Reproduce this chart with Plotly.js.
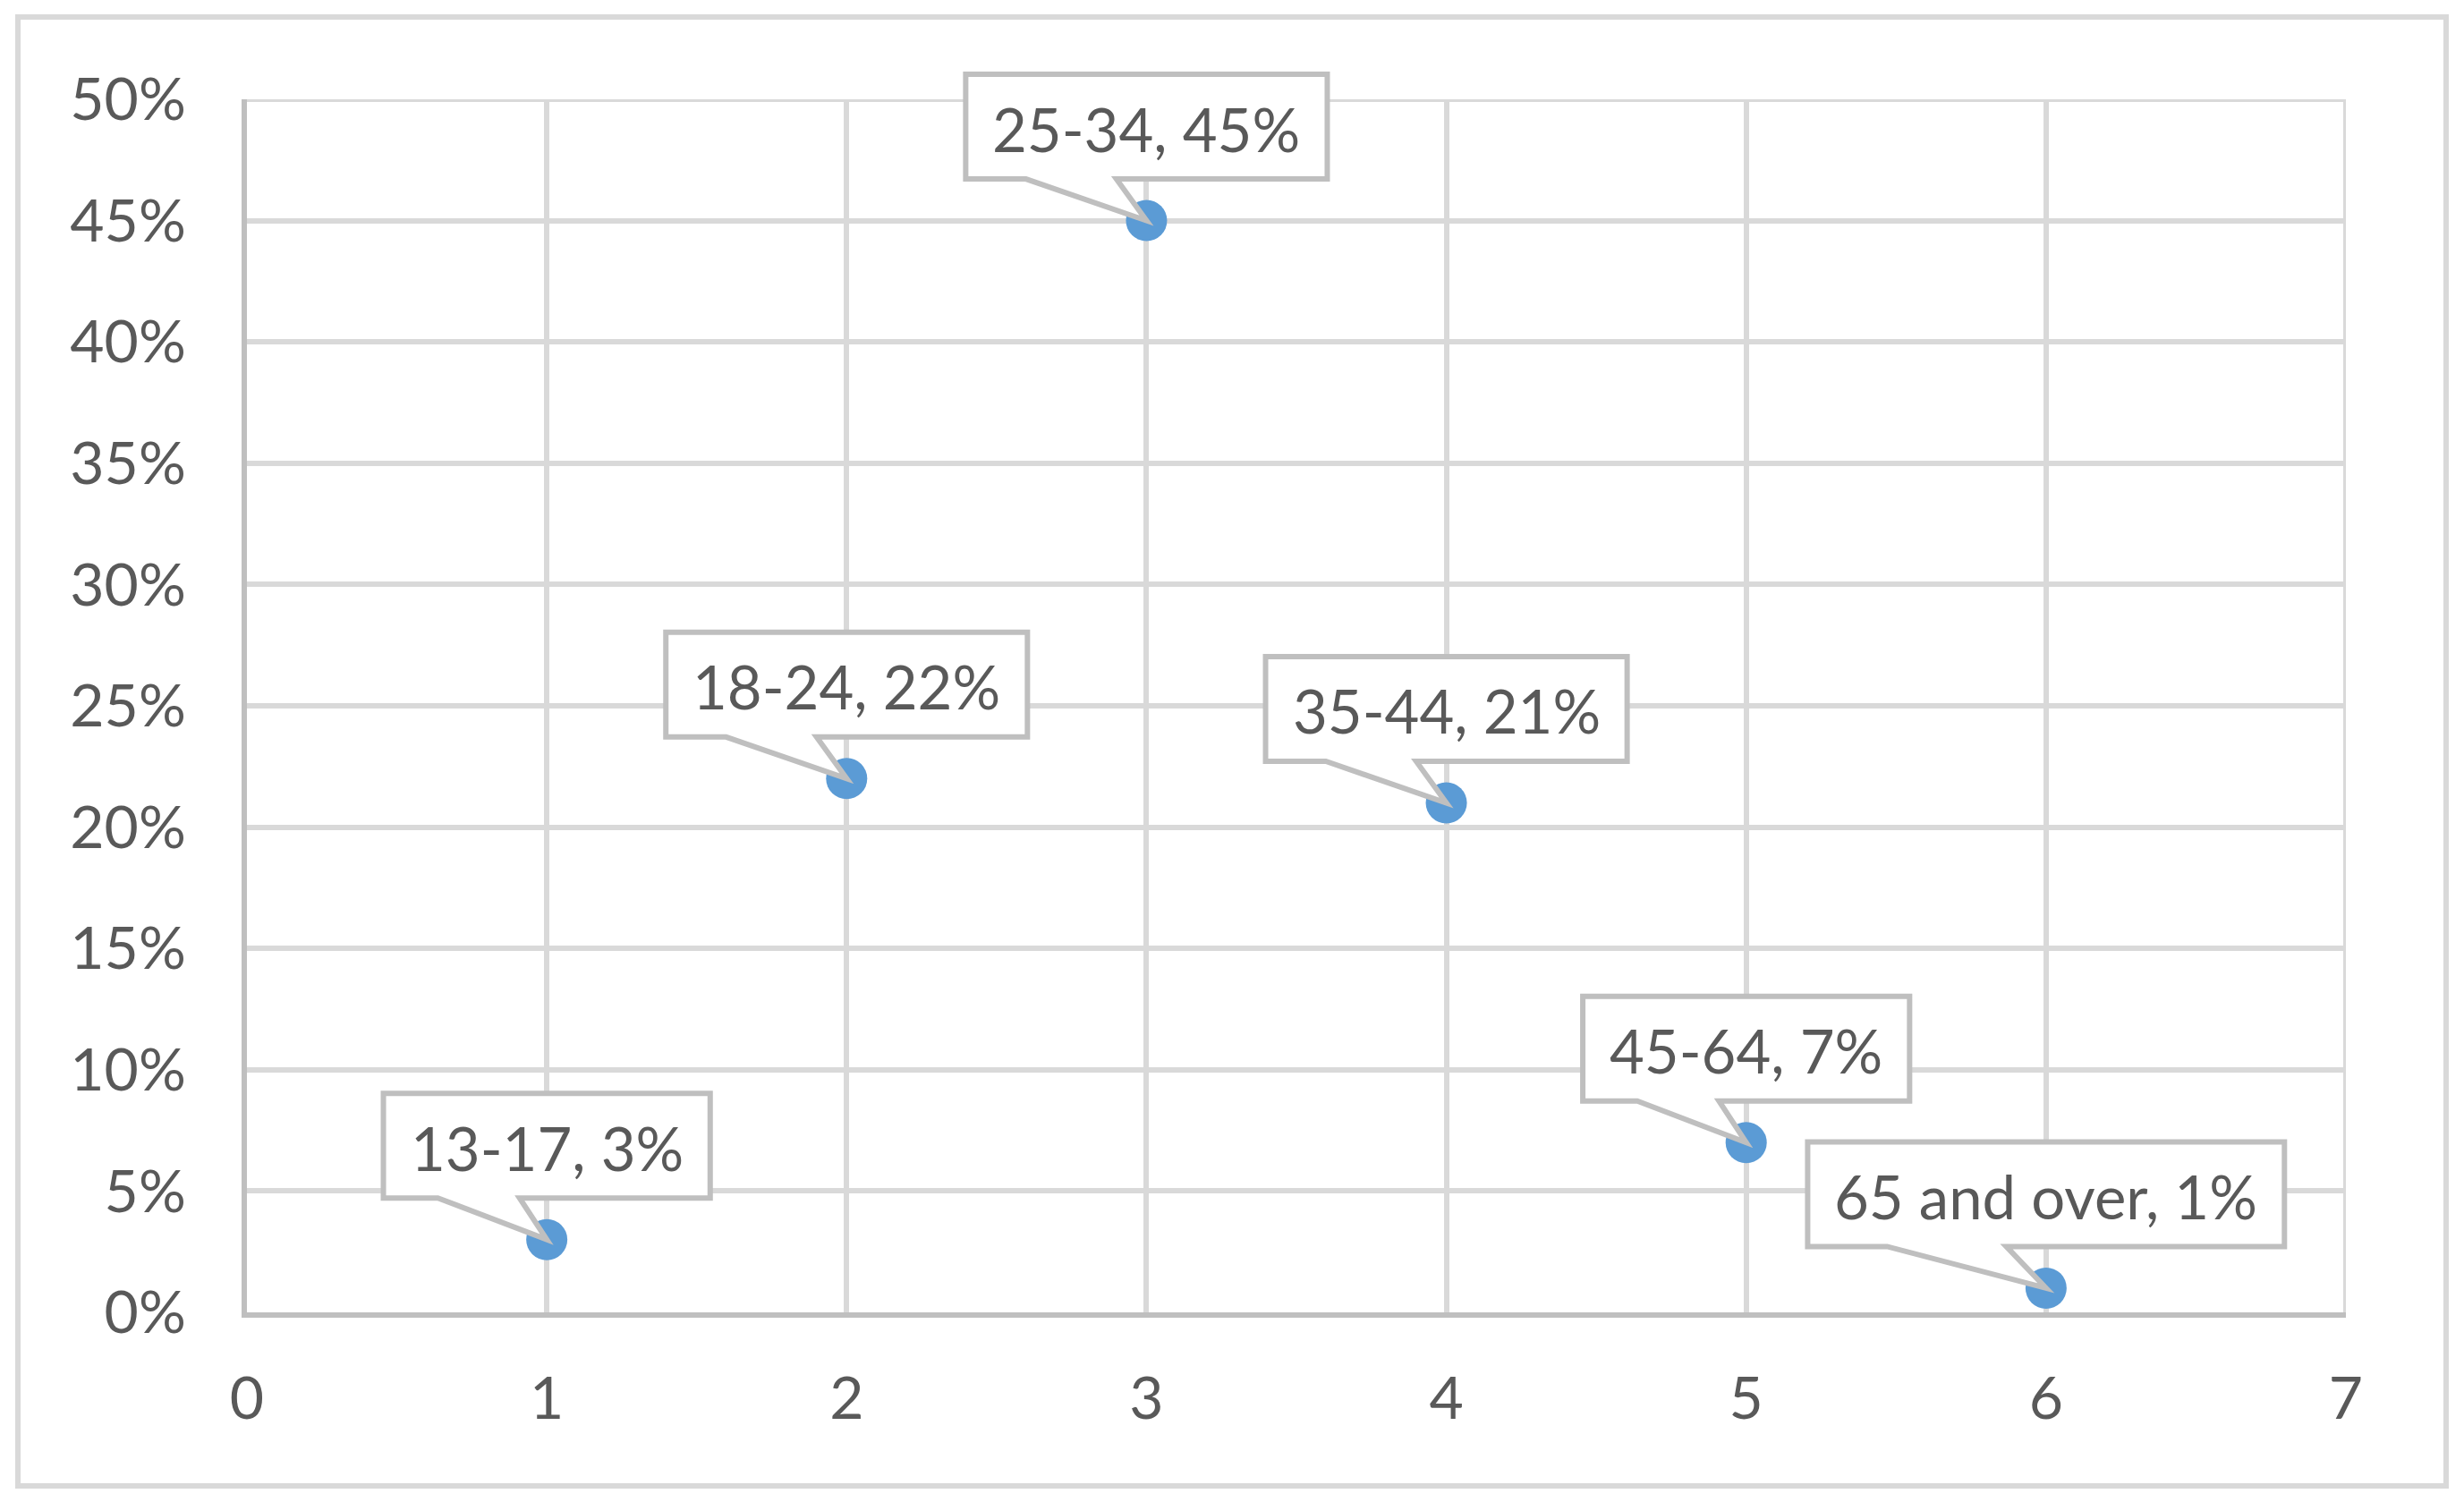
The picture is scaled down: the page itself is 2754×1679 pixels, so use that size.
<!DOCTYPE html>
<html>
<head>
<meta charset="utf-8">
<script src="https://cdn.plot.ly/plotly-3.0.1.min.js"></script>
<style>
  html, body { margin: 0; padding: 0; background: #ffffff; }
  #chart { width: 2754px; height: 1679px; }
</style>
</head>
<body>
<div id="chart"></div>
<script>
// ---- data ----
const ageGroups = ['13-17', '18-24', '25-34', '35-44', '45-64', '65 and over'];
const xPositions = [1, 2, 3, 4, 5, 6];
const shares = [0.03, 0.22, 0.45, 0.21, 0.07, 0.01];
const xTickValues = [0, 1, 2, 3, 4, 5, 6, 7];
const yTickValues = [0, 0.05, 0.10, 0.15, 0.20, 0.25, 0.30, 0.35, 0.40, 0.45, 0.50];
const xRange = [0, 7];
const yRange = [0, 0.5];

// ---- style ----
const FONT = 'Lato, "Open Sans", sans-serif';
const TEXT_COLOR = '#595959';
const GRID_COLOR = '#d9d9d9';
const AXIS_COLOR = '#bfbfbf';
const TICK_SIZE = 66;
const LABEL_SIZE = 67;

const W = 2754, H = 1679;
const M = { l: 276, r: 132, t: 111, b: 212 };

function draw() {
  const canvas = document.createElement('canvas');
  const ctx = canvas.getContext('2d');
  ctx.font = LABEL_SIZE + 'px Lato';

  const labelTexts = ageGroups.map((g, i) => g + ', ' + Math.round(shares[i] * 100) + '%');

  const shapes = [];
  const annotations = [];

  // outer chart border (paper coords relative to the plot area)
  const pw = W - M.l - M.r, ph = H - M.t - M.b;
  shapes.push({
    type: 'rect', xref: 'paper', yref: 'paper',
    x0: (20 - M.l) / pw, x1: (2734 - M.l) / pw,
    y0: (H - M.b - 1661) / ph, y1: (H - M.b - 19) / ph,
    line: { color: GRID_COLOR, width: 6 }, fillcolor: 'rgba(0,0,0,0)', layer: 'below'
  });
  // gridlines at the far ends of the ranges (top and right edges of the plot)
  shapes.push({
    type: 'line', xref: 'paper', yref: 'y', x0: 0, x1: 1, y0: yRange[1], y1: yRange[1],
    line: { color: GRID_COLOR, width: 6 }, layer: 'below'
  });
  shapes.push({
    type: 'line', xref: 'x', yref: 'paper', x0: xRange[1], x1: xRange[1], y0: 0, y1: 1,
    line: { color: GRID_COLOR, width: 6 }, layer: 'below'
  });

  labelTexts.forEach((t, i) => {
    const tw = ctx.measureText(t).width;
    const w = tw + 60;           // box width (stroke centre)
    const hb = 46.5, ht = 163.5;  // bottom/top of box above the point (px)
    const L = -w / 2, R = w / 2;
    const b1 = L + w / 6, b2 = L + 5 * w / 12;
    const path = `M${b2},${hb} L${R},${hb} L${R},${ht} L${L},${ht} L${L},${hb} L${b1},${hb} L0,0 Z`;
    shapes.push({
      type: 'path', xref: 'x', yref: 'paper',
      xsizemode: 'pixel', ysizemode: 'pixel',
      xanchor: xPositions[i],
      yanchor: (shares[i] - yRange[0]) / (yRange[1] - yRange[0]),
      path: path,
      fillcolor: '#ffffff',
      line: { color: AXIS_COLOR, width: 6 },
      layer: 'above'
    });
    annotations.push({
      x: xPositions[i], y: shares[i], xref: 'x', yref: 'y',
      text: t, showarrow: false,
      xanchor: 'center', yanchor: 'middle',
      yshift: 103,
      font: { family: FONT, size: LABEL_SIZE, color: TEXT_COLOR }
    });
  });

  const trace = {
    type: 'scatter', mode: 'markers',
    x: xPositions, y: shares,
    text: ageGroups,
    marker: { color: '#5b9bd5', size: 46, line: { width: 0 } },
    hoverinfo: 'x+y+text',
    cliponaxis: false
  };

  const layout = {
    width: W, height: H,
    margin: M,
    paper_bgcolor: '#ffffff', plot_bgcolor: '#ffffff',
    showlegend: false,
    font: { family: FONT, color: TEXT_COLOR, size: TICK_SIZE },
    xaxis: {
      range: xRange, tickvals: xTickValues, ticktext: xTickValues.map(String),
      showgrid: true, gridcolor: GRID_COLOR, gridwidth: 6,
      zeroline: false, showline: true, linecolor: AXIS_COLOR, linewidth: 6,
      ticks: '', ticklabelstandoff: 34,
      tickfont: { family: FONT, size: TICK_SIZE, color: TEXT_COLOR }
    },
    yaxis: {
      range: yRange, tickvals: yTickValues, tickformat: '.0%',
      showgrid: true, gridcolor: GRID_COLOR, gridwidth: 6,
      zeroline: false, showline: true, linecolor: AXIS_COLOR, linewidth: 6,
      ticks: '', ticklabelstandoff: 49,
      tickfont: { family: FONT, size: TICK_SIZE, color: TEXT_COLOR }
    },
    shapes: shapes,
    annotations: annotations
  };

  Plotly.newPlot('chart', [trace], layout, { displayModeBar: false, staticPlot: true });
}

if (document.fonts && document.fonts.load) {
  document.fonts.load(LABEL_SIZE + 'px Lato').then(draw, draw);
} else {
  draw();
}
</script>
</body>
</html>
